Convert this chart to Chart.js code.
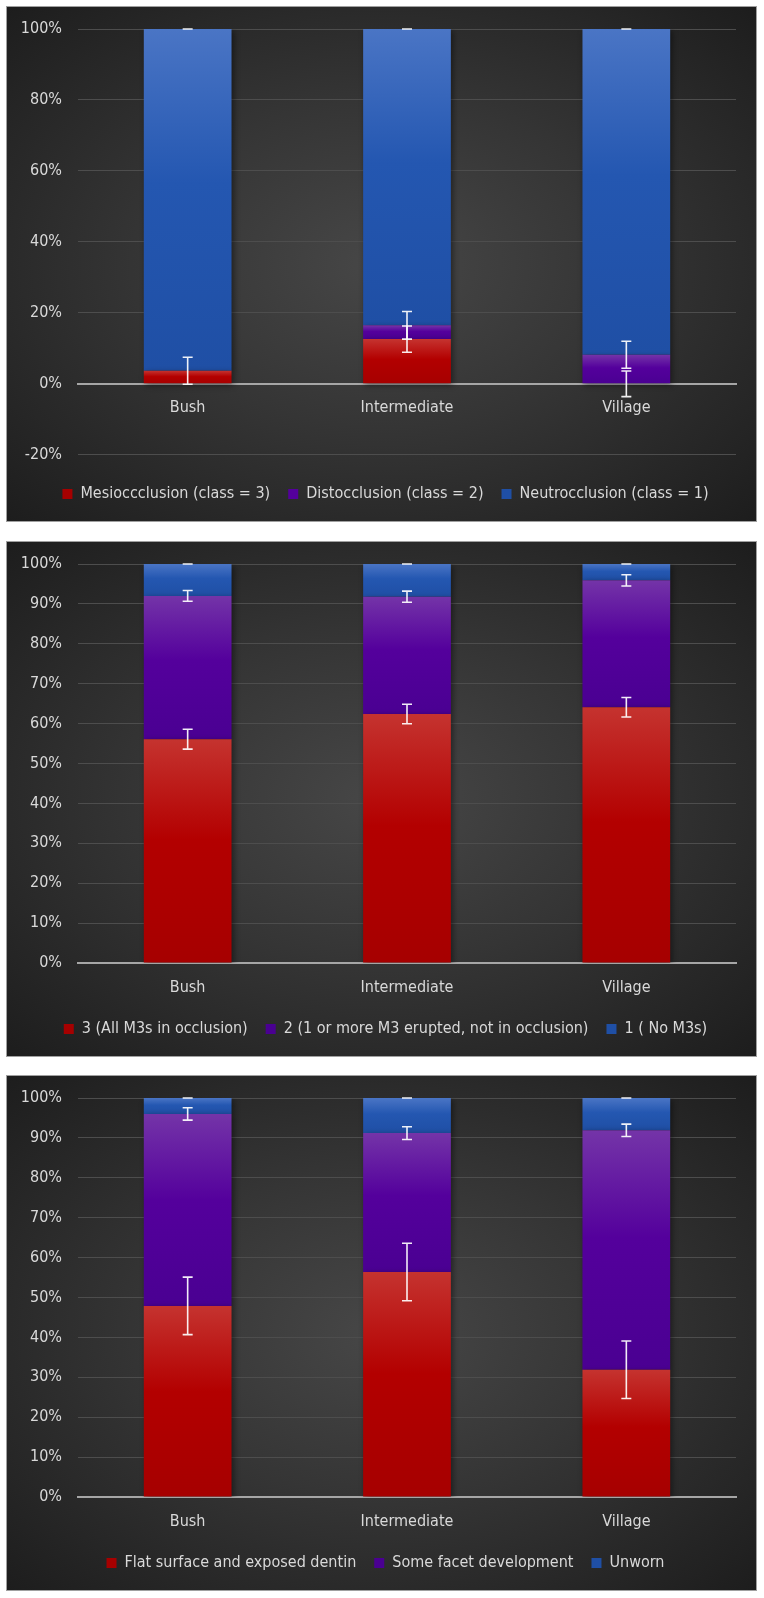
<!DOCTYPE html>
<html>
<head>
<meta charset="utf-8">
<script src="https://cdn.jsdelivr.net/npm/chart.js@4.4.1/dist/chart.umd.min.js"></script>
<style>
  body { margin: 0; background: #fff; }
  .panel {
    position: absolute; left: 6px; width: 751px; height: 516px;
    box-sizing: border-box; border: 1px solid #a0a0a0;
    background: radial-gradient(ellipse at 50% 50%, #474747 0%, #353535 45%, #1d1d1d 100%);
  }
  canvas { display: block; }
</style>
</head>
<body>
<div class="panel" style="top:6px"><canvas id="occChart" width="749" height="514"></canvas></div>
<div class="panel" style="top:541px"><canvas id="m3Chart" width="749" height="514"></canvas></div>
<div class="panel" style="top:1075px"><canvas id="wearChart" width="749" height="514"></canvas></div>
<script>
const categories = ['Bush', 'Intermediate', 'Village'];

// occlusion class
const occLabels = ['Mesioccclusion (class = 3)', 'Distocclusion (class = 2)', 'Neutrocclusion (class = 1)'];
const occMesio = [3.7, 12.6, 0];
const occDisto = [0, 3.9, 8.2];
const occNeutro = [96.3, 83.5, 91.8];
const occMesioErr = [3.8, 3.7, 3.6];
const occDistoErr = [0, 3.9, 3.8];
const occNeutroErr = [0, 0, 0];
const occTicks = [-20, 0, 20, 40, 60, 80, 100];

// M3 eruption
const m3Labels = ['3 (All M3s in occlusion)', '2 (1 or more M3 erupted, not in occlusion)', '1 ( No M3s)'];
const m3All = [56.1, 62.4, 64.1];
const m3Erupted = [35.9, 29.4, 31.8];
const m3None = [8.0, 8.2, 4.1];
const m3AllErr = [2.5, 2.45, 2.45];
const m3EruptedErr = [1.35, 1.4, 1.4];
const m3NoneErr = [0, 0, 0];

// wear
const wearLabels = ['Flat surface and exposed dentin', 'Some facet development', 'Unworn'];
const wearFlat = [47.9, 56.4, 31.9];
const wearFacet = [48.1, 34.8, 60.0];
const wearUnworn = [4.0, 8.8, 8.1];
const wearFlatErr = [7.2, 7.2, 7.2];
const wearFacetErr = [1.55, 1.6, 1.55];
const wearUnwornErr = [0, 0, 0];

const RED = ['#c5332f', '#b30000', '#a60000', '#c00000'];
const PURPLE = ['#7434a8', '#54009c', '#4a0092', '#7030a0'];
const BLUE = ['#4a75c5', '#2457b1', '#1f4fa5', '#4472c4'];

const textColor = '#d9d9d9';
const fontFamily = '"DejaVu Sans Condensed", "DejaVu Sans", sans-serif';

// gradient per stacked segment, computed from the y scale
function segFill(colors) {
    return function(ctx) {
        if (ctx.type !== 'data') return colors[3];
        const chart = ctx.chart;
        const y = chart.scales.y;
        if (!y) return colors[1];
        const ds = chart.data.datasets;
        let base = 0;
        for (let k = 0; k < ctx.datasetIndex; k++) base += ds[k].data[ctx.dataIndex];
        const top = base + ds[ctx.datasetIndex].data[ctx.dataIndex];
        const y0 = y.getPixelForValue(top), y1 = y.getPixelForValue(base);
        if (!isFinite(y0) || !isFinite(y1) || Math.abs(y1 - y0) < 1) return colors[1];
        const g = chart.ctx.createLinearGradient(0, y0, 0, y1);
        g.addColorStop(0, colors[0]);
        g.addColorStop(0.45, colors[1]);
        g.addColorStop(1, colors[2]);
        return g;
    };
}

const barShadow = {
    id: 'barShadow',
    beforeDatasetsDraw(chart) {
        const c = chart.ctx;
        c.save();
        c.shadowColor = 'rgba(0,0,0,0.45)';
        c.shadowBlur = 6;
        c.shadowOffsetX = 2;
        c.shadowOffsetY = 2;
    },
    afterDatasetsDraw(chart) {
        chart.ctx.restore();
    }
};

// nudge the legend a little right, like the original
const legendShift = {
    id: 'legendShift',
    afterLayout(chart) {
        if (!chart.legend) return;
        chart.legend.left += 7;
        chart.legend.right += 7;
    }
};

const errorBars = {
    id: 'errorBars',
    afterDatasetsDraw(chart) {
        const c = chart.ctx;
        const y = chart.scales.y;
        const dsets = chart.data.datasets;
        c.save();
        c.strokeStyle = 'rgba(255,255,255,0.92)';
        c.lineWidth = 1.6;
        dsets.forEach((ds, i) => {
            const meta = chart.getDatasetMeta(i);
            ds.data.forEach((v, j) => {
                const e = ds.errors[j];
                if (v === 0 && e === 0) return;
                let top = 0;
                for (let k = 0; k <= i; k++) top += dsets[k].data[j];
                const x = meta.data[j].x;
                const hi = y.getPixelForValue(top + e);
                const lo = y.getPixelForValue(top - e);
                c.beginPath();
                c.moveTo(x, hi); c.lineTo(x, lo);
                c.moveTo(x - 5, hi); c.lineTo(x + 5, hi);
                c.moveTo(x - 5, lo); c.lineTo(x + 5, lo);
                c.stroke();
            });
        });
        c.restore();
    }
};

function makeChart(id, labels, series, errors, yMin, yStep, centerAxis) {
    const colors = [RED, PURPLE, BLUE];
    const ctx = document.getElementById(id).getContext('2d');
    return new Chart(ctx, {
        type: 'bar',
        data: {
            labels: categories,
            datasets: series.map((s, i) => ({
                label: labels[i],
                data: s,
                errors: errors[i],
                backgroundColor: segFill(colors[i]),
                borderWidth: 0,
                barPercentage: 0.4,
                categoryPercentage: 1
            }))
        },
        options: {
            responsive: false,
            animation: false,
            layout: { padding: { left: 14, right: 20, top: 22, bottom: 9 } },
            plugins: {
                tooltip: { enabled: false },
                legend: {
                    position: 'bottom',
                    // empty title only used as a spacer above the items
                    title: { display: centerAxis, text: '', font: { size: 1 }, padding: { top: 12, bottom: 0 } },
                    labels: {
                        color: textColor,
                        font: { family: fontFamily, size: 16 },
                        boxWidth: 10,
                        boxHeight: 10,
                        padding: 18
                    }
                }
            },
            scales: {
                x: {
                    stacked: true,
                    position: centerAxis ? { y: 0 } : 'bottom',
                    grid: { display: false },
                    border: { display: true, color: '#a6a6a6', width: 2 },
                    ticks: { color: textColor, font: { family: fontFamily, size: 16 }, padding: centerAxis ? 6 : 7 },
                    afterFit: s => { if (!centerAxis) s.height = 40; }
                },
                y: {
                    stacked: true,
                    min: yMin,
                    max: 100,
                    grid: { color: '#4d4d4d', lineWidth: 1, drawTicks: false },
                    border: { display: false },
                    ticks: {
                        stepSize: yStep,
                        color: textColor,
                        padding: 16,
                        font: { family: fontFamily, size: 16 },
                        callback: v => v + '%'
                    },
                    afterFit: s => { s.width = 57; s.paddingTop = 0; s.paddingBottom = 0; }
                }
            }
        },
        plugins: [barShadow, errorBars, legendShift]
    });
}

makeChart('occChart', occLabels, [occMesio, occDisto, occNeutro],
    [occMesioErr, occDistoErr, occNeutroErr], occTicks[0], 20, true);
makeChart('m3Chart', m3Labels, [m3All, m3Erupted, m3None],
    [m3AllErr, m3EruptedErr, m3NoneErr], 0, 10, false);
makeChart('wearChart', wearLabels, [wearFlat, wearFacet, wearUnworn],
    [wearFlatErr, wearFacetErr, wearUnwornErr], 0, 10, false);
</script>
</body>
</html>
